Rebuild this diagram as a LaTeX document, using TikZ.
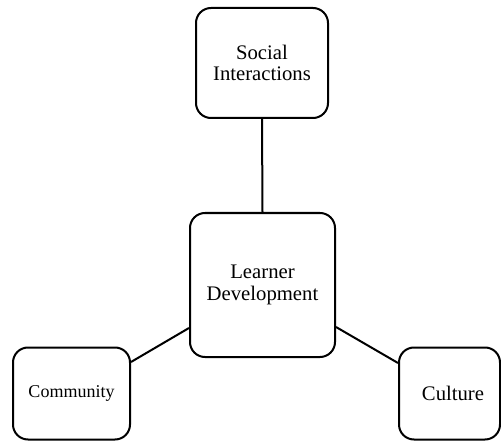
\documentclass[tikz,border=0pt]{standalone}
\usepackage{fontspec}
\setmainfont{Liberation Serif}
\usepackage{tikz}

\tikzset{
  factor/.style={draw, line width=2pt, rounded corners=15pt, align=center,
    inner sep=0pt, font=\fontsize{20.7}{21.7}\selectfont},
  link/.style={line width=2pt}
}

\begin{document}
\begin{tikzpicture}[x=1pt, y=-1pt]
\useasboundingbox (0,0) rectangle (501,441);

% the four boxes
\node[factor, minimum width=132pt, minimum height=110pt] (social) at (262, 63) {Social\\Interactions};
\node[factor, minimum width=145pt, minimum height=144pt] (learner) at (262.5, 285) {Learner\\Development};
\node[factor, minimum width=117pt, minimum height=92pt,
      font=\fontsize{18}{20}\selectfont] (community) at (71.5, 393.5) {Community};
\node[factor, minimum width=101pt, minimum height=92pt] (culture) at (449.5, 393.5) {\hspace*{7pt}Culture};

% links to the centre
\draw[link] (social.south) -- (learner.north);
\draw[link] ([yshift=-43pt]learner.west) -- ([yshift=31.5pt]community.east);
\draw[link] ([yshift=-42pt]learner.east) -- ([yshift=30.5pt]culture.west);
\end{tikzpicture}
\end{document}
